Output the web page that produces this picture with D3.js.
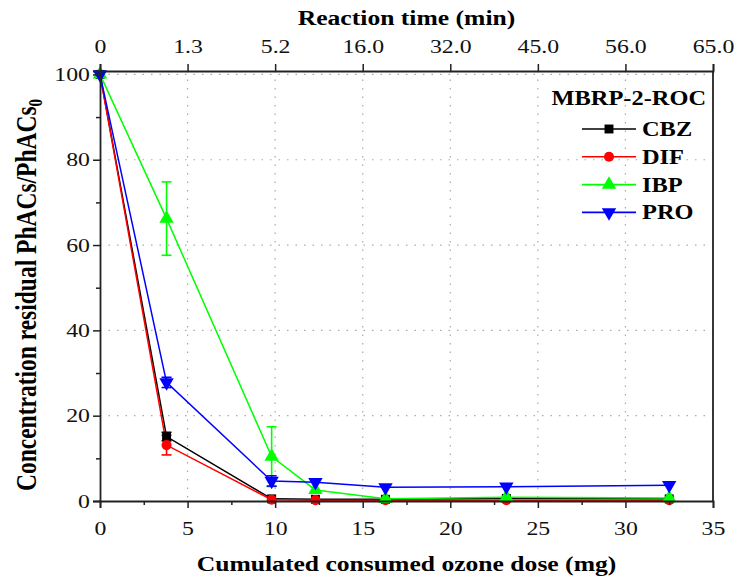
<!DOCTYPE html>
<html>
<head>
<meta charset="utf-8">
<script src="https://cdn.jsdelivr.net/npm/d3@7"></script>
<style>
  body { margin: 0; background: #fff; }
  svg text { font-family: "Liberation Serif", "Times New Roman", serif; }
</style>
</head>
<body>
<div id="chart"></div>
<script>
// ozone dose of each sample (mg)
const dose = [0, 3.8, 9.8, 12.3, 16.3, 23.2, 32.5];

// residual concentration, % of initial
const cbz = [100, 15.1, 0.5, 0.4, 0.4, 0.6, 0.5];
const dif = [100, 13.1, 0.3, 0.2, 0.2, 0.2, 0.2];
const ibp = [100, 66.2, 10.4, 2.6, 0.5, 0.9, 0.7];
const pro = [100, 27.8, 4.7, 4.4, 3.2, 3.35, 3.7];

// error bars (+/-)
const cbzErr = [0, 1.0, 0, 0, 0, 0, 0];
const difErr = [0, 2.3, 0, 0, 0, 0, 0];
const ibpErr = [0, 8.6, 7.0, 0, 0, 0, 0];
const proErr = [0, 1.2, 1.2, 0, 0, 0, 0];

// top axis: reaction time labels sitting over the dose ticks
const topTicks = [0, 5, 10, 15, 20, 25, 30, 35];
const topLabels = ["0", "1.3", "5.2", "16.0", "32.0", "45.0", "56.0", "65.0"];

const series = [
    { name: "CBZ", values: cbz, err: cbzErr, color: "#000000", symbol: d3.symbolSquare },
    { name: "DIF", values: dif, err: difErr, color: "#ff0000", symbol: d3.symbolCircle },
    { name: "IBP", values: ibp, err: ibpErr, color: "#00ff00", symbol: d3.symbolTriangle },
    { name: "PRO", values: pro, err: proErr, color: "#0000ff", symbol: "down" }
];

const margin = { top: 71, right: 25, bottom: 76, left: 100 },
    width = 738 - margin.left - margin.right,
    height = 577 - margin.top - margin.bottom;

// the original text is a bit wide for its height
const stretch = 1.22;

const svg = d3.select("#chart").append("svg")
    .attr("width", 738)
    .attr("height", 577);

const g = svg.append("g")
    .attr("transform", "translate(" + margin.left + "," + margin.top + ")");

const x = d3.scaleLinear().domain([0, 35]).range([0, width]);
const y = d3.scaleLinear().domain([0, 100.8]).range([height, 0]);

// dotted grid
g.append("g").selectAll("line")
    .data([5, 10, 15, 20, 25, 30])
    .enter().append("line")
    .attr("x1", d => x(d)).attr("x2", d => x(d))
    .attr("y1", 0).attr("y2", height)
    .attr("stroke", "#aaa").attr("stroke-width", 1.2)
    .attr("stroke-dasharray", "1.5 7");
g.append("g").selectAll("line")
    .data([20, 40, 60, 80, 100])
    .enter().append("line")
    .attr("x1", 0).attr("x2", width)
    .attr("y1", d => y(d)).attr("y2", d => y(d))
    .attr("stroke", "#aaa").attr("stroke-width", 1.2)
    .attr("stroke-dasharray", "1.5 7");

// lines
const line = d3.line()
    .x((d, i) => x(dose[i]))
    .y(d => y(d));

series.forEach(s => {
    g.append("path")
        .attr("d", line(s.values))
        .attr("fill", "none")
        .attr("stroke", s.color)
        .attr("stroke-width", 1.5);
});

// error bars
series.forEach(s => {
    s.values.forEach((v, i) => {
        if (!s.err[i]) return;
        const cx = x(dose[i]);
        const eg = g.append("g").attr("stroke", s.color).attr("stroke-width", 1.6);
        eg.append("line").attr("x1", cx).attr("x2", cx)
            .attr("y1", y(v - s.err[i])).attr("y2", y(v + s.err[i]));
        [v - s.err[i], v + s.err[i]].forEach(e => {
            eg.append("line").attr("x1", cx - 5).attr("x2", cx + 5)
                .attr("y1", y(e)).attr("y2", y(e));
        });
    });
});

function marker(sel, s, cx, cy) {
    if (s.symbol === "down") {
        sel.append("path")
            .attr("d", d3.symbol(d3.symbolTriangle, 90)())
            .attr("transform", "translate(" + cx + "," + cy + ") rotate(180)")
            .attr("fill", s.color);
    } else {
        const size = s.symbol === d3.symbolTriangle ? 90 : 80;
        sel.append("path")
            .attr("d", d3.symbol(s.symbol, size)())
            .attr("transform", "translate(" + cx + "," + cy + ")")
            .attr("fill", s.color);
    }
}

// markers
series.forEach(s => {
    s.values.forEach((v, i) => marker(g, s, x(dose[i]), y(v)));
});

// axes
const axisColor = "#222";
const xAxisG = g.append("g")
    .attr("transform", "translate(0," + height + ")")
    .call(d3.axisBottom(x).tickValues(d3.range(0, 36, 5)).tickSize(7).tickPadding(13));
g.append("g")
    .attr("transform", "translate(0," + height + ")")
    .call(d3.axisBottom(x).tickValues(d3.range(2.5, 35, 5)).tickSize(4).tickFormat(""))
    .select(".domain").remove();

const yAxisG = g.append("g")
    .call(d3.axisLeft(y).tickValues(d3.range(0, 101, 20)).tickSize(7));
g.append("g")
    .call(d3.axisLeft(y).tickValues(d3.range(10, 100, 20)).tickSize(4).tickFormat(""))
    .select(".domain").remove();

const topAxisG = g.append("g")
    .call(d3.axisTop(x).tickValues(topTicks).tickSize(7).tickPadding(11)
        .tickFormat((d, i) => topLabels[i]));

g.append("line")
    .attr("x1", width).attr("x2", width)
    .attr("y1", 0).attr("y2", height)
    .attr("stroke", axisColor).attr("stroke-width", 1.8);

g.selectAll(".domain").attr("stroke", axisColor).attr("stroke-width", 1.8);
g.selectAll(".tick line").attr("stroke", axisColor).attr("stroke-width", 1.5);
g.selectAll(".tick text")
    .style("font-family", "'Liberation Serif', serif")
    .style("font-size", "19.5px")
    .attr("fill", "#111");

xAxisG.selectAll(".tick text").attr("transform", "scale(" + stretch + ",1)");
topAxisG.selectAll(".tick text").attr("transform", "scale(" + stretch + ",1)");
yAxisG.selectAll(".tick text")
    .attr("x", 0)
    .attr("transform", "translate(-10,0) scale(" + stretch + ",1)");

// axis titles
svg.append("text")
    .attr("transform", "translate(" + (margin.left + width / 2) + ",571) scale(" + stretch + ",1)")
    .attr("text-anchor", "middle")
    .style("font-size", "21px")
    .style("font-weight", "bold")
    .text("Cumulated consumed ozone dose (mg)");

svg.append("text")
    .attr("transform", "translate(" + (margin.left + width / 2) + ",25) scale(" + stretch + ",1)")
    .attr("text-anchor", "middle")
    .style("font-size", "21px")
    .style("font-weight", "bold")
    .text("Reaction time (min)");

const yt = svg.append("text")
    .attr("transform", "translate(36,295) rotate(-90) scale(1," + stretch + ")")
    .attr("text-anchor", "middle")
    .style("font-size", "23.5px")
    .style("font-weight", "bold");
yt.append("tspan").text("Concentration residual PhACs/PhACs");
yt.append("tspan").attr("dy", 5).style("font-size", "15px").text("0");

// legend
const lg = g.append("g").attr("transform", "translate(" + (width - 7) + ",34)");
lg.append("text")
    .attr("transform", "scale(" + stretch + ",1)")
    .attr("text-anchor", "end")
    .style("font-size", "20px")
    .style("font-weight", "bold")
    .text("MBRP-2-ROC");

series.forEach((s, i) => {
    const row = lg.append("g").attr("transform", "translate(-124," + (24 + i * 27.8) + ")");
    row.append("line")
        .attr("x1", 0).attr("x2", 54)
        .attr("y1", 0).attr("y2", 0)
        .attr("stroke", s.color).attr("stroke-width", 1.6);
    marker(row, s, 27, 0);
    row.append("text")
        .attr("transform", "translate(60,7) scale(" + stretch + ",1)")
        .style("font-size", "20px")
        .style("font-weight", "bold")
        .text(s.name);
});
</script>
</body>
</html>
